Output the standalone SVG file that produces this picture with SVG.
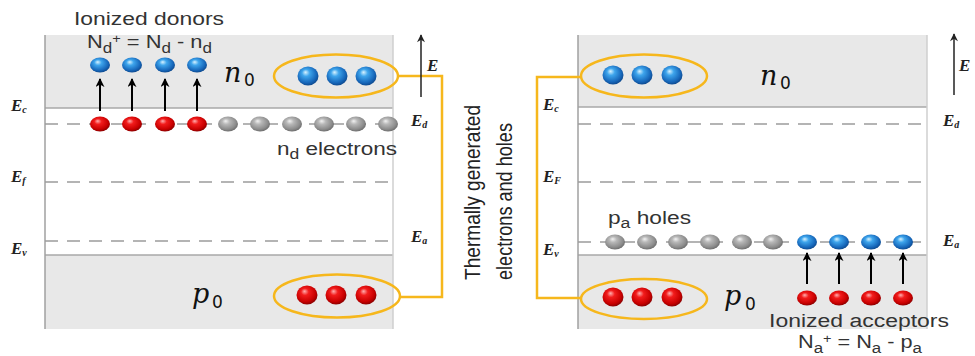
<svg xmlns="http://www.w3.org/2000/svg" width="975" height="356" viewBox="0 0 975 356">
<defs>
  <radialGradient id="gB" cx="0.45" cy="0.42" r="0.62" fx="0.38" fy="0.3">
    <stop offset="0" stop-color="#d9f3ff"/>
    <stop offset="0.3" stop-color="#3ea5ec"/>
    <stop offset="0.75" stop-color="#1768bb"/>
    <stop offset="1" stop-color="#0c4385"/>
  </radialGradient>
  <radialGradient id="gR" cx="0.45" cy="0.42" r="0.62" fx="0.38" fy="0.3">
    <stop offset="0" stop-color="#ffb0b0"/>
    <stop offset="0.3" stop-color="#f21c1c"/>
    <stop offset="0.75" stop-color="#c80000"/>
    <stop offset="1" stop-color="#7c0000"/>
  </radialGradient>
  <radialGradient id="gG" cx="0.45" cy="0.42" r="0.62" fx="0.38" fy="0.3">
    <stop offset="0" stop-color="#f2f2f2"/>
    <stop offset="0.3" stop-color="#b8b8b8"/>
    <stop offset="0.75" stop-color="#8c8c8c"/>
    <stop offset="1" stop-color="#666"/>
  </radialGradient>
  <marker id="ah" viewBox="0 0 10 10" refX="9" refY="5" markerWidth="9" markerHeight="9" markerUnits="userSpaceOnUse" orient="auto">
    <path d="M0,0 L10,5 L0,10 L3,5 z" fill="#000"/>
  </marker>
  <marker id="ahE" viewBox="0 0 10 10" refX="9" refY="5" markerWidth="10" markerHeight="8" markerUnits="userSpaceOnUse" orient="auto">
    <path d="M0,0 L10,5 L0,10 L3,5 z" fill="#222"/>
  </marker>
</defs>
<style>
  .shade{fill:#e8e8e8}
  .edge{stroke:#a9a9a9;stroke-width:1.6}
  .side{stroke:#a0a0a0;stroke-width:1.5}
  .side2{stroke:#cfcfcf;stroke-width:1.5}
  .dash{stroke:#9c9c9c;stroke-width:1.5;stroke-dasharray:13 9;fill:none}
  .lbl{font-family:"Liberation Sans",Arial,sans-serif;font-size:18px;fill:#333}
  .vt{font-family:"Liberation Sans",Arial,sans-serif;font-size:18px;fill:#222}
  .el{font-family:"Liberation Serif","Times New Roman",serif;font-style:italic;font-weight:bold;font-size:17px;fill:#222}
  .math{font-family:"DejaVu Serif","Liberation Serif",serif;font-style:italic;font-size:27px;fill:#111}
  .msub{font-family:"DejaVu Sans","Liberation Sans",sans-serif;font-size:17px;fill:#111}
  .orange{fill:none;stroke:#f6b71c;stroke-width:2.5}
  .b{fill:url(#gB)}
  .r{fill:url(#gR)}
  .g{fill:url(#gG)}
  .arr{stroke:#000;stroke-width:2;fill:none;marker-end:url(#ah)}
  .earr{stroke:#222;stroke-width:1.5;fill:none;marker-end:url(#ahE)}
</style>

<!-- LEFT PANEL -->
<g id="left-band-diagram">
  <rect class="shade" x="45" y="35" width="348" height="73"/>
  <rect class="shade" x="45" y="255" width="348" height="74"/>
  <line class="edge" x1="45" y1="108" x2="393" y2="108"/>
  <line class="edge" x1="45" y1="255" x2="393" y2="255"/>
  <line class="side" x1="45" y1="35" x2="45" y2="329"/>
  <line class="side2" x1="393" y1="35" x2="393" y2="329"/>
  <line class="dash" x1="45" y1="124" x2="393" y2="124"/>
  <line class="dash" x1="45" y1="182" x2="393" y2="182"/>
  <line class="dash" x1="45" y1="241" x2="393" y2="241"/>
  <text class="el" x="11" y="111">E<tspan font-size="10" dy="2">c</tspan></text>
  <text class="el" x="11" y="182">E<tspan font-size="10" dy="2">f</tspan></text>
  <text class="el" x="11" y="254">E<tspan font-size="10" dy="2">v</tspan></text>
  <text class="el" x="411" y="126">E<tspan font-size="10" dy="2">d</tspan></text>
  <text class="el" x="411" y="242">E<tspan font-size="10" dy="2">a</tspan></text>
  <text class="el" x="427" y="71" font-weight="normal" font-size="17">E</text>
</g>

<g id="left-ionized-donors">
  <text class="lbl" x="74" y="25" textLength="150" lengthAdjust="spacingAndGlyphs">Ionized donors</text>
  <text class="lbl" x="87" y="48" textLength="125" lengthAdjust="spacingAndGlyphs">N<tspan font-size="14" dy="5">d</tspan><tspan font-size="12" dy="-10">+</tspan><tspan dy="5"> = N</tspan><tspan font-size="14" dy="5">d</tspan><tspan dy="-5"> - n</tspan><tspan font-size="14" dy="5">d</tspan></text>
  <ellipse class="b" cx="100" cy="65" rx="10" ry="7.5"/>
  <ellipse class="b" cx="132" cy="65" rx="10" ry="7.5"/>
  <ellipse class="b" cx="165" cy="65" rx="10" ry="7.5"/>
  <ellipse class="b" cx="197" cy="65" rx="10" ry="7.5"/>
</g>

<g id="left-donor-level">
  <ellipse class="r" cx="100" cy="124" rx="10" ry="7.5"/>
  <ellipse class="r" cx="132" cy="124" rx="10" ry="7.5"/>
  <ellipse class="r" cx="165" cy="124" rx="10" ry="7.5"/>
  <ellipse class="r" cx="197" cy="124" rx="10" ry="7.5"/>
  <ellipse class="g" cx="228" cy="124" rx="10" ry="7.5"/>
  <ellipse class="g" cx="260" cy="124" rx="10" ry="7.5"/>
  <ellipse class="g" cx="292" cy="124" rx="10" ry="7.5"/>
  <ellipse class="g" cx="324" cy="124" rx="10" ry="7.5"/>
  <ellipse class="g" cx="356" cy="124" rx="10" ry="7.5"/>
  <ellipse class="g" cx="388" cy="124" rx="10" ry="7.5"/>
  <text class="lbl" x="277" y="155" textLength="120" lengthAdjust="spacingAndGlyphs">n<tspan font-size="14" dy="4">d</tspan><tspan dy="-4"> electrons</tspan></text>
</g>

<g id="left-n0">
  <ellipse class="orange" cx="336" cy="76" rx="62" ry="21.5"/>
  <ellipse class="b" cx="308" cy="76" rx="10.5" ry="9.5"/>
  <ellipse class="b" cx="337" cy="76" rx="10.5" ry="9.5"/>
  <ellipse class="b" cx="366" cy="76" rx="10.5" ry="9.5"/>
  <text class="math" x="224" y="82">n</text>
  <text class="msub" x="244" y="86">0</text>
</g>

<g id="left-p0">
  <ellipse class="orange" cx="337" cy="296" rx="63" ry="21.5"/>
  <ellipse class="r" cx="307" cy="295" rx="10.5" ry="9.5"/>
  <ellipse class="r" cx="336" cy="295" rx="10.5" ry="9.5"/>
  <ellipse class="r" cx="366" cy="295" rx="10.5" ry="9.5"/>
  <text class="math" x="192" y="303">p</text>
  <text class="msub" x="212" y="308">0</text>
</g>

<!-- CENTER LABEL -->
<g id="thermal-label">
  <text class="vt" transform="translate(480,280) scale(1.18,1) rotate(-90)" textLength="175" lengthAdjust="spacingAndGlyphs">Thermally generated</text>
  <text class="vt" transform="translate(512,280) scale(1.18,1) rotate(-90)" textLength="157" lengthAdjust="spacingAndGlyphs">electrons and holes</text>
</g>

<!-- RIGHT PANEL -->
<g id="right-band-diagram">
  <rect class="shade" x="578" y="35" width="349" height="72"/>
  <rect class="shade" x="578" y="255" width="349" height="74"/>
  <line class="edge" x1="578" y1="107" x2="927" y2="107"/>
  <line class="edge" x1="578" y1="255" x2="927" y2="255"/>
  <line class="side" x1="578" y1="35" x2="578" y2="329"/>
  <line class="side2" x1="927" y1="35" x2="927" y2="329"/>
  <line class="dash" x1="578" y1="124" x2="927" y2="124"/>
  <line class="dash" x1="578" y1="182" x2="927" y2="182"/>
  <line class="dash" x1="578" y1="242" x2="927" y2="242"/>
  <text class="el" x="543" y="110">E<tspan font-size="10" dy="2">c</tspan></text>
  <text class="el" x="543" y="182">E<tspan font-size="10" dy="2">F</tspan></text>
  <text class="el" x="543" y="255">E<tspan font-size="10" dy="2">v</tspan></text>
  <text class="el" x="943" y="126">E<tspan font-size="10" dy="2">d</tspan></text>
  <text class="el" x="943" y="246">E<tspan font-size="10" dy="2">a</tspan></text>
  <text class="el" x="959" y="71" font-weight="normal" font-size="17">E</text>
</g>

<g id="right-n0">
  <ellipse class="orange" cx="644" cy="76" rx="63" ry="21.5"/>
  <ellipse class="b" cx="613" cy="75" rx="10.5" ry="9.5"/>
  <ellipse class="b" cx="642" cy="75" rx="10.5" ry="9.5"/>
  <ellipse class="b" cx="672" cy="75" rx="10.5" ry="9.5"/>
  <text class="math" x="760" y="85">n</text>
  <text class="msub" x="780" y="89">0</text>
</g>

<g id="right-acceptor-level">
  <ellipse class="g" cx="615" cy="242" rx="10" ry="7.5"/>
  <ellipse class="g" cx="647" cy="242" rx="10" ry="7.5"/>
  <ellipse class="g" cx="678" cy="242" rx="10" ry="7.5"/>
  <ellipse class="g" cx="710" cy="242" rx="10" ry="7.5"/>
  <ellipse class="g" cx="742" cy="242" rx="10" ry="7.5"/>
  <ellipse class="g" cx="773" cy="242" rx="10" ry="7.5"/>
  <ellipse class="b" cx="807" cy="242" rx="10" ry="7.5"/>
  <ellipse class="b" cx="839" cy="242" rx="10" ry="7.5"/>
  <ellipse class="b" cx="871" cy="242" rx="10" ry="7.5"/>
  <ellipse class="b" cx="903" cy="242" rx="10" ry="7.5"/>
  <text class="lbl" x="608" y="224" textLength="83" lengthAdjust="spacingAndGlyphs">p<tspan font-size="14" dy="4">a</tspan><tspan dy="-4"> holes</tspan></text>
</g>

<g id="right-ionized-acceptors">
  <ellipse class="r" cx="807" cy="298" rx="10" ry="7.5"/>
  <ellipse class="r" cx="839" cy="298" rx="10" ry="7.5"/>
  <ellipse class="r" cx="871" cy="298" rx="10" ry="7.5"/>
  <ellipse class="r" cx="903" cy="298" rx="10" ry="7.5"/>
  <text class="lbl" x="769" y="327" textLength="180" lengthAdjust="spacingAndGlyphs">Ionized acceptors</text>
  <text class="lbl" x="798" y="348" textLength="124" lengthAdjust="spacingAndGlyphs">N<tspan font-size="14" dy="5">a</tspan><tspan font-size="12" dy="-10">+</tspan><tspan dy="5"> = N</tspan><tspan font-size="14" dy="5">a</tspan><tspan dy="-5"> - p</tspan><tspan font-size="14" dy="5">a</tspan></text>
</g>

<g id="right-p0">
  <ellipse class="orange" cx="644" cy="299" rx="63" ry="20"/>
  <ellipse class="r" cx="613" cy="297" rx="10.5" ry="9.5"/>
  <ellipse class="r" cx="642" cy="297" rx="10.5" ry="9.5"/>
  <ellipse class="r" cx="672" cy="297" rx="10.5" ry="9.5"/>
  <text class="math" x="724" y="305">p</text>
  <text class="msub" x="745" y="310">0</text>
</g>

<!-- CONNECTORS -->
<g id="connectors">
  <path class="orange" d="M398,76 H442 V297 H400"/>
  <path class="orange" d="M581,77 H537 V298 H581"/>
  <line class="arr" x1="100" y1="111" x2="100" y2="79"/>
  <line class="arr" x1="132" y1="111" x2="132" y2="79"/>
  <line class="arr" x1="165" y1="111" x2="165" y2="79"/>
  <line class="arr" x1="197" y1="111" x2="197" y2="79"/>
  <line class="arr" x1="807" y1="284" x2="807" y2="253"/>
  <line class="arr" x1="839" y1="284" x2="839" y2="253"/>
  <line class="arr" x1="871" y1="284" x2="871" y2="253"/>
  <line class="arr" x1="903" y1="284" x2="903" y2="253"/>
  <line class="earr" x1="421" y1="97" x2="421" y2="35"/>
  <line class="earr" x1="954" y1="95" x2="954" y2="34"/>
</g>
</svg>
